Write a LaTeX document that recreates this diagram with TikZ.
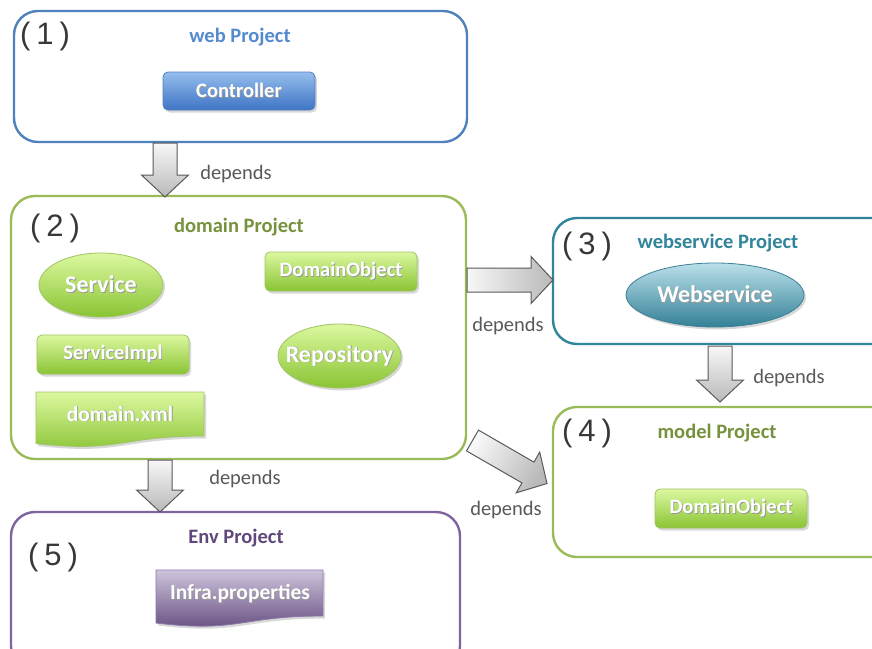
\documentclass[tikz,border=0pt]{standalone}
\usepackage{fontspec}
\setmainfont{Carlito}
\newfontfamily\numberfont{Liberation Sans}
\usetikzlibrary{shapes.geometric,shadows,calc}

\definecolor{webblue}{RGB}{79,129,189}
\definecolor{webtext}{RGB}{84,138,207}
\definecolor{domaingreen}{RGB}{155,187,89}
\definecolor{domaintext}{RGB}{118,146,60}
\definecolor{wsteal}{RGB}{49,133,155}
\definecolor{envpurple}{RGB}{128,100,162}
\definecolor{envtext}{RGB}{96,73,122}
\definecolor{numgray}{RGB}{56,56,56}
\definecolor{labelgray}{RGB}{89,89,89}
\definecolor{arrowline}{RGB}{90,90,90}

\newcommand\shtext[1]{\makebox[0pt][l]{\kern.9pt\raisebox{-.9pt}{\color{black!40}#1}}#1}
\newcommand\ovaltext[1]{\makebox[0pt]{\shtext{#1}}}

\tikzset{
  project/.style={draw=#1, line width=2.4pt, rounded corners=24pt, fill=white, inner sep=0pt},
  projtitle/.style={font=\bfseries\fontsize{20.5}{24}\selectfont, text=#1, inner sep=0pt},
  projnum/.style={font=\numberfont\fontsize{31}{34}\selectfont, text=numgray, inner sep=0pt},
  deplabel/.style={font=\fontsize{20.5}{24}\selectfont, text=labelgray, inner sep=0pt},
  part/.style={font=\bfseries\fontsize{20.5}{24}\selectfont, text=white, inner sep=0pt, line width=.8pt,
    drop shadow={shadow xshift=2pt, shadow yshift=-2.5pt, opacity=.3}},
  bluebox/.style={part, rectangle, rounded corners=5pt, minimum width=152, minimum height=38,
    top color={rgb,255:red,150;green,190;blue,238}, bottom color={rgb,255:red,62;green,116;blue,196},
    draw={rgb,255:red,80;green,128;blue,190}},
  greenbox/.style={part, rectangle, rounded corners=5pt, minimum width=152, minimum height=39,
    top color={rgb,255:red,220;green,248;blue,160}, bottom color={rgb,255:red,138;green,196;blue,52},
    draw={rgb,255:red,160;green,196;blue,100}},
  greenoval/.style={part, ellipse, minimum width=124, minimum height=64, font=\bfseries\fontsize{24}{28}\selectfont,
    top color={rgb,255:red,220;green,248;blue,160}, bottom color={rgb,255:red,138;green,196;blue,52},
    draw={rgb,255:red,160;green,196;blue,100}},
  tealoval/.style={part, ellipse, minimum width=178, minimum height=64, font=\bfseries\fontsize{24}{28}\selectfont,
    top color={rgb,255:red,186;green,224;blue,234}, bottom color={rgb,255:red,52;green,128;blue,150},
    draw={rgb,255:red,60;green,128;blue,150}},
  greendoc/.style={part, top color={rgb,255:red,220;green,248;blue,160}, bottom color={rgb,255:red,138;green,196;blue,52},
    draw={rgb,255:red,160;green,196;blue,100}},
  purpledoc/.style={part, top color={rgb,255:red,206;green,196;blue,220}, bottom color={rgb,255:red,96;green,72;blue,124},
    draw={rgb,255:red,140;green,120;blue,170}},
  doctext/.style={font=\bfseries\fontsize{21.5}{24}\selectfont, text=white, inner sep=0pt},
  dependarrow/.style={draw=arrowline, line width=1pt, line join=miter}
}

\newcommand\blockarrow[3]{%
  \coordinate (ah) at ($(#3)!22pt!(#2)$);
  \path[dependarrow,#1] ($(#2)!12pt!90:(#3)$) -- ($(ah)!12pt!-90:(#2)$) -- ($(ah)!23.5pt!-90:(#2)$) -- (#3)
    -- ($(ah)!23.5pt!90:(#2)$) -- ($(ah)!12pt!90:(#2)$) -- ($(#2)!12pt!-90:(#3)$) -- cycle;}

\begin{document}
\begin{tikzpicture}[x=1pt,y=-1pt]
\useasboundingbox (0,0) rectangle (872,648);
\clip (0,0) rectangle (872,648);
\fill[white] (0,0) rectangle (872,648);

\node[project=webblue, minimum width=453, minimum height=131] (web) at (240.5,76.5) {};
\node[project=domaingreen, minimum width=455, minimum height=263] (domain) at (238.5,327.5) {};
\node[project=wsteal, minimum width=347, minimum height=126] (ws) at (726.5,281) {};
\node[project=domaingreen, minimum width=347, minimum height=150] (model) at (726.5,482) {};
\node[project=envpurple, minimum width=449, minimum height=158] (env) at (235.5,591) {};

\node[projnum] (num1) at (45,36) {(\kern6pt1\kern6pt)};
\node[projnum] (num2) at (55,228) {(\kern6pt2\kern6pt)};
\node[projnum] (num3) at (587,246) {(\kern6pt3\kern6pt)};
\node[projnum] (num4) at (587,433) {(\kern6pt4\kern6pt)};
\node[projnum] (num5) at (53,557) {(\kern6pt5\kern6pt)};

\node[projtitle=webtext] (webtitle) at (240,37) {web Project};
\node[projtitle=domaintext] (domaintitle) at (239,227) {domain Project};
\node[projtitle=wsteal] (wstitle) at (718,243) {webservice Project};
\node[projtitle=domaintext] (modeltitle) at (717,433) {model Project};
\node[projtitle=envtext] (envtitle) at (236,538) {Env Project};

\node[bluebox] (controller) at (239,91) {\shtext{Controller}};
\node[greenoval] (service) at (101,285) {\ovaltext{Service}};
\node[greenbox] (domobj) at (341,271.5) {\shtext{DomainObject}};
\node[greenbox] (serviceimpl) at (113,354.5) {\shtext{ServiceImpl}};
\node[greenoval, minimum width=123] (repository) at (339.5,356) {\ovaltext{Repository}};
\path[greendoc] (36,392) -- (204,392) -- (204,436) .. controls (120,436) and (120,453) .. (36,443.5) -- cycle;
\node[doctext] (domainxml) at (120,414) {\shtext{domain.xml}};
\node[tealoval] (webservice) at (715,295) {\ovaltext{Webservice}};
\node[greenbox] (modelobj) at (731,508.5) {\shtext{DomainObject}};
\path[purpledoc] (156,570) -- (323,570) -- (323,616) .. controls (239.5,616) and (239.5,633) .. (156,623) -- cycle;
\node[doctext] (infra) at (240,594) {\shtext{Infra.properties}};

\coordinate (webout) at (165,143);
\coordinate (domainin) at (165,197);
\coordinate (domainright) at (467,280);
\coordinate (wsin) at (553,280);
\coordinate (wsout) at (720,346);
\coordinate (modeltop) at (720,402);
\coordinate (domaincorner) at (472.5,440.5);
\coordinate (modelleft) at (547,483.5);
\coordinate (domainout) at (160,460);
\coordinate (envin) at (160,512);

\blockarrow{top color=gray!6, bottom color=gray!55}{webout}{domainin}
\blockarrow{left color=gray!6, right color=gray!55}{domainright}{wsin}
\blockarrow{top color=gray!6, bottom color=gray!55}{wsout}{modeltop}
\blockarrow{top color=gray!6, bottom color=gray!55, shading angle=60}{domaincorner}{modelleft}
\blockarrow{top color=gray!6, bottom color=gray!55}{domainout}{envin}

\node[deplabel] (dep1) at (236,174) {depends};
\node[deplabel] (dep2) at (508,326) {depends};
\node[deplabel] (dep3) at (789,378) {depends};
\node[deplabel] (dep4) at (506,510) {depends};
\node[deplabel] (dep5) at (245,479) {depends};
\end{tikzpicture}
\end{document}
